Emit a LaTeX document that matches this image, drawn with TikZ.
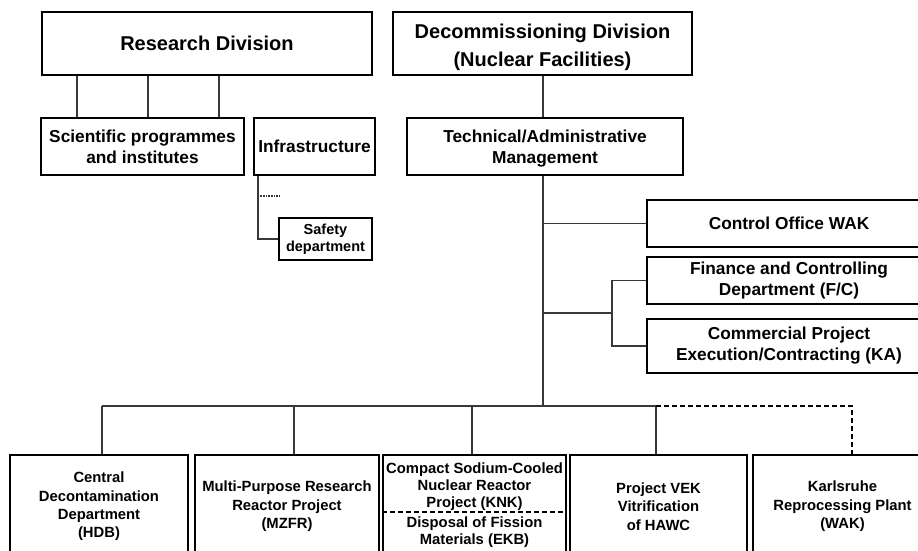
\documentclass[tikz,border=0pt]{standalone}
\usepackage{fontspec}
\setmainfont{Liberation Sans}
\begin{document}
\begin{tikzpicture}[x=1pt,y=-1pt,
  box/.style={draw=black,line width=1.6pt,rectangle,inner sep=0pt,align=center,font=\bfseries\fontsize{17.3}{21}\selectfont},
  headbox/.style={box,font=\bfseries\fontsize{20}{28}\selectfont},
  unitbox/.style={box,line width=1.9pt,minimum width=#1,minimum height=103pt,font=\bfseries\fontsize{14.8}{18.4}\selectfont},
  boxtxt/.style={inner sep=0pt,align=center},
  smalltxt/.style={boxtxt,font=\bfseries\fontsize{14.8}{17}\selectfont},
  conn/.style={draw=black!78,line width=1.3pt},
  dashconn/.style={draw=black,line width=1.8pt,dash pattern=on 5pt off 3pt},
]
\useasboundingbox (0,0) rectangle (918,550);
\clip (0,0) rectangle (918,550);

% --- Research division branch ---
\node[headbox,minimum width=330pt,minimum height=63pt] (research) at (207,43.5) {Research Division};
\node[box,minimum width=203pt,minimum height=57pt] (sci) at (142.5,146.5) {Scientific programmes\\and institutes};
\node[box,minimum width=121pt,minimum height=57pt] (infra) at (314.5,146.5) {Infrastructure};
\node[box,line width=1.5pt,minimum width=93pt,minimum height=42pt,font=\bfseries\fontsize{14.5}{16.8}\selectfont] (safety) at (325.5,239) {Safety\\department};

\coordinate (r1) at (77,0);
\coordinate (r2) at (148,0);
\coordinate (r3) at (219,0);
\foreach \c in {r1,r2,r3}
  \draw[conn] (research.south -| \c) -- (sci.north -| \c);

\coordinate (k) at (258,0);
\coordinate (kdot) at (280,196);
\draw[conn] (infra.south -| k) |- (safety.west);
\draw[draw=black!78,line width=1.3pt,dash pattern=on 1pt off 0.6pt] (kdot -| k) -- (kdot);

% --- Decommissioning division branch ---
\node[headbox,minimum width=299pt,minimum height=63pt] (decomm) at (542.5,43.5) {};
\node[boxtxt,font=\bfseries\fontsize{20}{28}\selectfont] (decommtxt) at (542.5,47.5) {Decommissioning Division\\(Nuclear Facilities)};
\node[box,minimum width=276pt,minimum height=57pt] (tech) at (545,146.5) {};
\node[boxtxt,font=\bfseries\fontsize{17.3}{21}\selectfont] (techtxt) at (545,149) {Technical/Administrative\\Management};
\node[box,minimum width=284pt,minimum height=47pt] (control) at (789,223.5) {Control Office WAK};
\node[box,minimum width=284pt,minimum height=47pt] (finance) at (789,280.5) {Finance and Controlling\\Department (F/C)};
\node[box,minimum width=284pt,minimum height=54pt] (commercial) at (789,346) {Commercial Project\\Execution/Contracting (KA)};

\coordinate (spine) at (543,0);
\coordinate (bus) at (543,406);
\coordinate (fork) at (612,313);
\draw[conn] (decomm.south -| spine) -- (tech.north -| spine);
\draw[conn] (tech.south -| spine) -- (bus);
\draw[conn] (control.west -| spine) -- (control.west);
\draw[conn] (fork -| spine) -- (fork);
\draw[conn] (finance.west) -| (fork) |- (commercial.west);

% --- Project units ---
\node[unitbox=178pt] (hdb) at (99,506.5) {Central\\Decontamination\\Department\\(HDB)};
\node[unitbox=184pt] (mzfr) at (287,506.5) {Multi-Purpose Research\\Reactor Project\\(MZFR)};
\node[unitbox=183pt] (knk) at (474.5,506.5) {};
\node[unitbox=177pt] (vek) at (658.5,506.5) {Project VEK\\Vitrification\\of HAWC};
\node[unitbox=179pt] (wak) at (842.5,506.5) {Karlsruhe\\Reprocessing Plant\\(WAK)};

\node[smalltxt] (knktxt) at (474.5,487) {Compact Sodium-Cooled\\Nuclear Reactor\\Project (KNK)};
\node[smalltxt] (ekbtxt) at (474.5,532) {Disposal of Fission\\Materials (EKB)};
\coordinate (split) at (0,512);
\draw[dashconn,line width=1.6pt] (knk.west |- split) -- (knk.east |- split);

\coordinate (d1) at (102,406);
\coordinate (d2) at (294,406);
\coordinate (d3) at (472,406);
\coordinate (d4) at (656,406);
\coordinate (d5) at (852,406);
\draw[conn] (d1) -- (d4);
\draw[conn] (d1) -- (d1 |- hdb.north);
\draw[conn] (d2) -- (d2 |- mzfr.north);
\draw[conn] (d3) -- (d3 |- knk.north);
\draw[conn] (d4) -- (d4 |- vek.north);
\draw[dashconn] (d4) -- (d5) -- ([yshift=-3pt]d5 |- wak.north);
\end{tikzpicture}
\end{document}
